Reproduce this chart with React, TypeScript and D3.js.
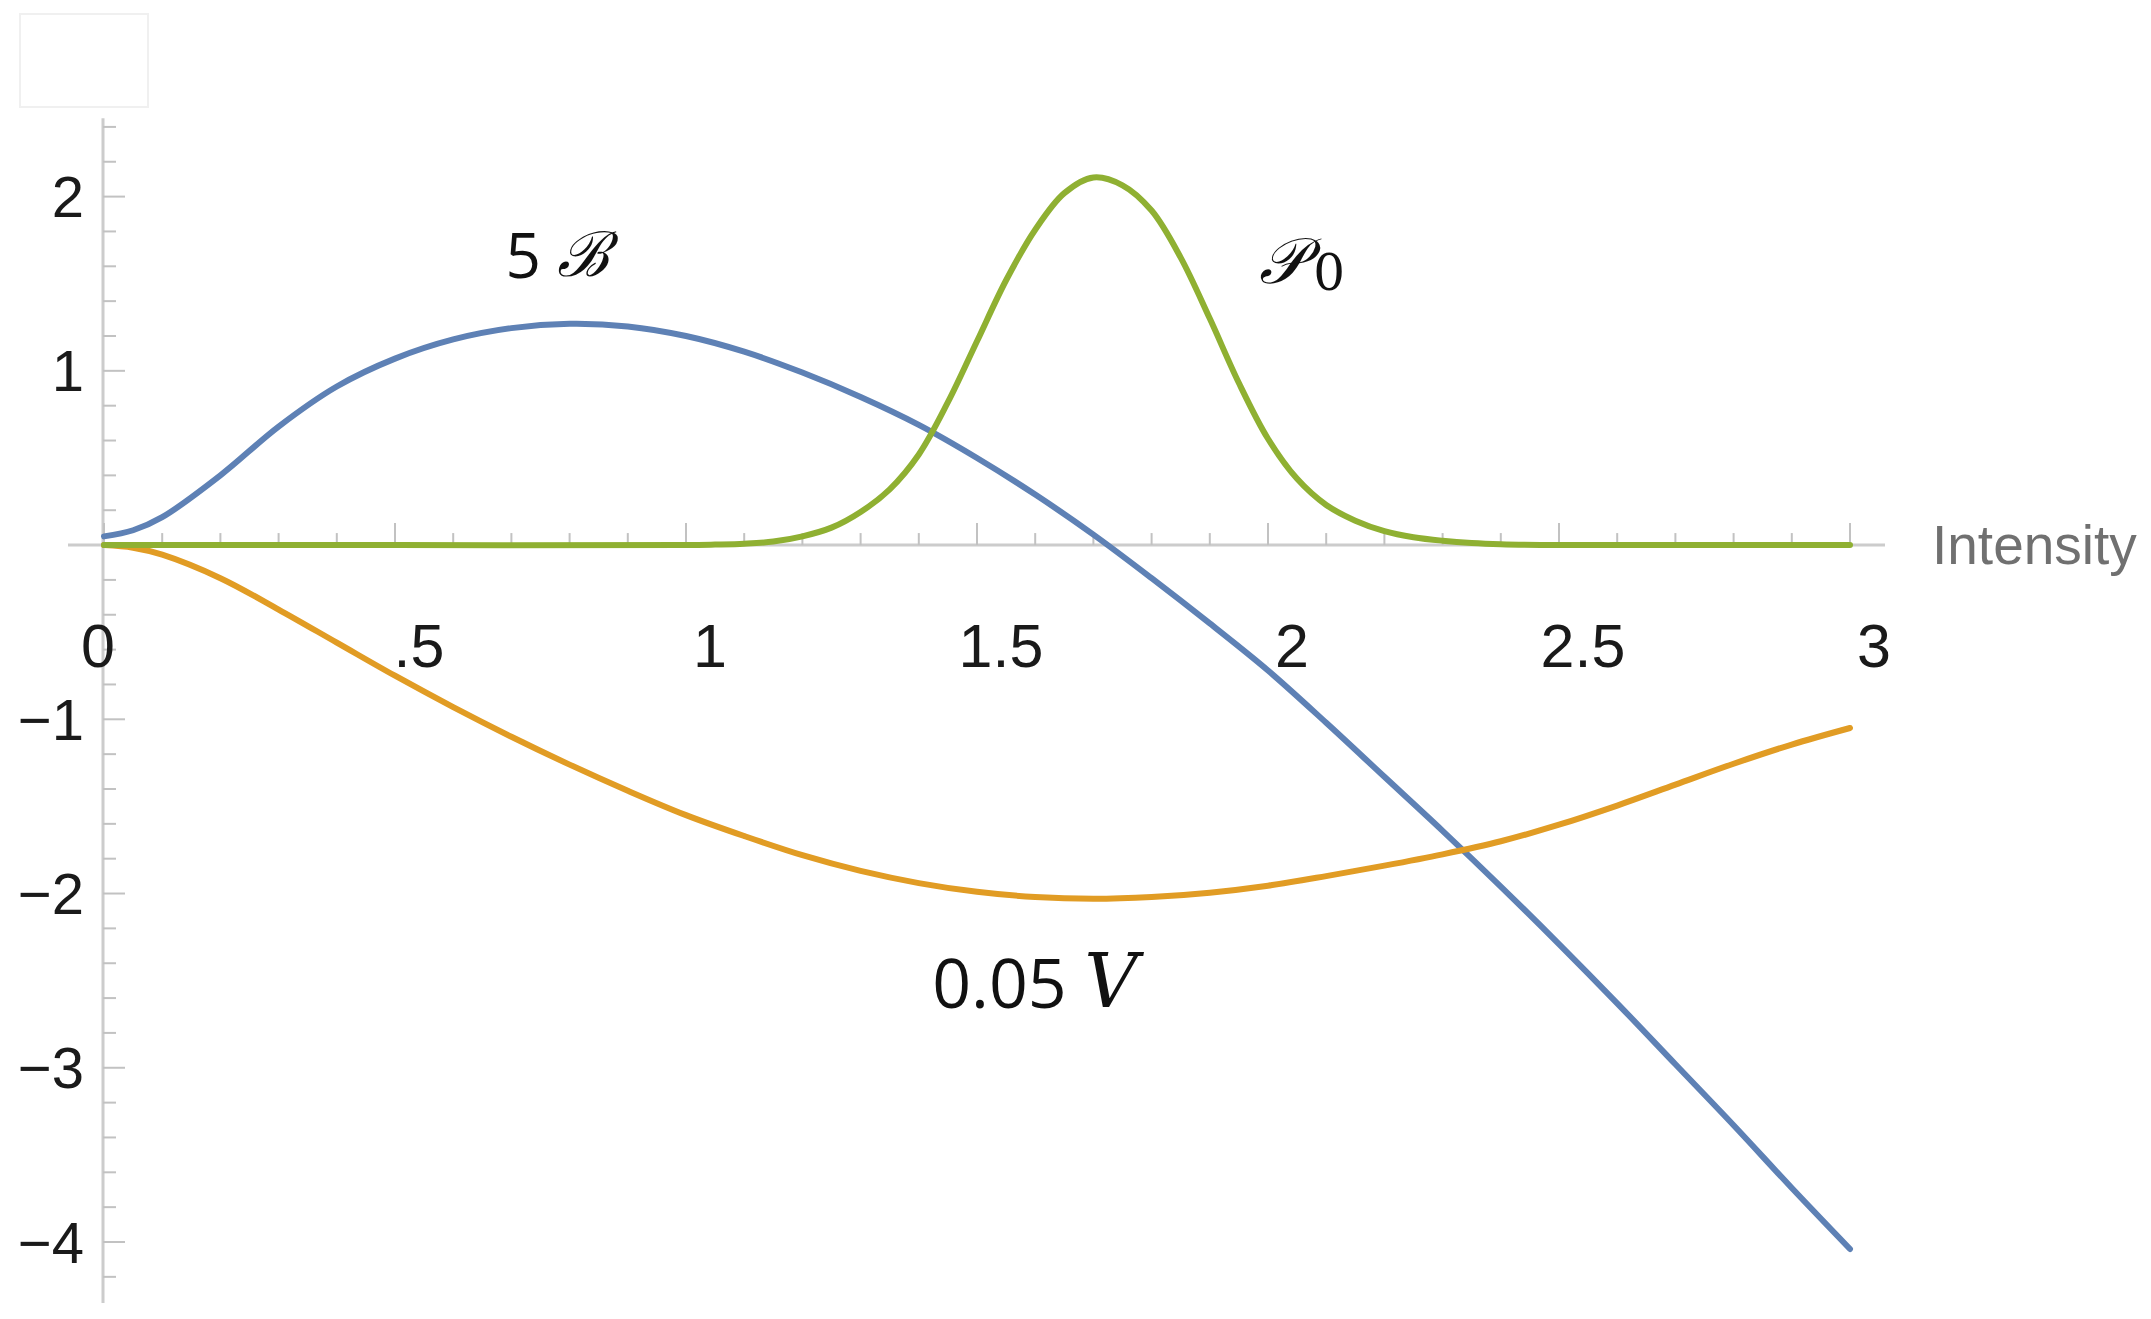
import React from "react";
import * as d3 from "d3";

// ---------- data ----------
const intensity = [
  0, 0.05, 0.1, 0.2, 0.3, 0.4, 0.5, 0.6, 0.7, 0.8, 0.9, 1.0,
  1.1, 1.2, 1.3, 1.4, 1.5, 1.6, 1.7, 1.8, 1.9, 2.0,
  2.1, 2.2, 2.3, 2.4, 2.5, 2.6, 2.7, 2.8, 2.9, 3.0,
];
// 5 B (blue)
const fiveB = [
  0.05, 0.085, 0.16, 0.4, 0.68, 0.91, 1.07, 1.18, 1.245, 1.27, 1.255, 1.2,
  1.11, 0.99, 0.85, 0.69, 0.5, 0.29, 0.06, -0.19, -0.45, -0.72,
  -1.02, -1.33, -1.64, -1.96, -2.29, -2.63, -2.98, -3.33, -3.69, -4.04,
];
// 0.05 V (orange)
const pointZeroFiveV = [
  0, -0.015, -0.055, -0.19, -0.37, -0.56, -0.75, -0.93, -1.1, -1.26, -1.41, -1.55,
  -1.67, -1.78, -1.87, -1.94, -1.99, -2.02, -2.03, -2.02, -1.995, -1.955,
  -1.9, -1.84, -1.775, -1.7, -1.605, -1.495, -1.375, -1.255, -1.145, -1.05,
];
// P0 (green) on its own finer grid
const intensityP0 = [
  0, 0.5, 1.0, 1.05, 1.1, 1.15, 1.2, 1.25, 1.3, 1.35, 1.4, 1.45, 1.5, 1.55,
  1.6, 1.65, 1.7, 1.75, 1.8, 1.85, 1.9, 1.95, 2.0, 2.05, 2.1, 2.15, 2.2,
  2.25, 2.3, 2.35, 2.4, 2.5, 2.7, 3.0,
];
const p0 = [
  0, 0, 0, 0.003, 0.008, 0.02, 0.05, 0.1, 0.19, 0.32, 0.52, 0.82, 1.17, 1.52,
  1.81, 2.02, 2.11, 2.065, 1.92, 1.65, 1.3, 0.93, 0.61, 0.38, 0.23, 0.14, 0.08,
  0.045, 0.025, 0.012, 0.005, 0, 0, 0,
];

const xTicks = [0, 0.5, 1, 1.5, 2, 2.5, 3];
const xTickLabels = ["0", ".5", "1", "1.5", "2", "2.5", "3"];
const yTicks = [-4, -3, -2, -1, 1, 2];
const yTickLabels = ["\u22124", "\u22123", "\u22122", "\u22121", "1", "2"];
const xAxisTitle = "Intensity";

const W = 2151;
const H = 1319;

export default function App() {
  const x = d3.scaleLinear().domain([0, 3]).range([104, 1850]);
  const y = d3.scaleLinear().domain([-4, 2]).range([1242, 196.6]);

  const mk = (xs: number[], ys: number[]) =>
    d3
      .line<number>()
      .x((_, i) => x(xs[i]))
      .y((d) => y(d))
      .curve(d3.curveCatmullRom.alpha(0.5))(ys) || "";

  const minorX = d3.range(0, 30.5, 1).map((v) => v / 10).filter((v) => Math.round(v * 10) % 5 !== 0);
  const minorY = d3.range(-21, 13, 1).map((v) => v / 5).filter((v) => Math.round(v * 5) % 5 !== 0);

  const axisColor = "#cccccc";
  const tickColor = "#c2c2c2";
  const y0 = y(0);
  const ax = x(0) - 1;

  return (
    <svg
      width={W}
      height={H}
      style={{ position: "absolute", left: 0, top: 0, display: "block", background: "#fff" }}
      fontFamily="'Liberation Sans', Arial, sans-serif"
    >
      <rect x={0} y={0} width={W} height={H} fill="#fff" />
      <rect x={20} y={14} width={128} height={93} fill="none" stroke="#f0f0f0" strokeWidth={2} />

      {/* y axis */}
      <line x1={ax} x2={ax} y1={y(2.45)} y2={y(-4.35)} stroke={axisColor} strokeWidth={3} />
      {minorY.map((v) => (
        <line key={"my" + v} x1={ax} x2={ax + 13} y1={y(v)} y2={y(v)} stroke={tickColor} strokeWidth={2} />
      ))}
      {yTicks.map((v) => (
        <line key={"Ty" + v} x1={ax} x2={ax + 22} y1={y(v)} y2={y(v)} stroke={tickColor} strokeWidth={2} />
      ))}
      {yTicks.map((v, i) => (
        <text key={"ly" + v} x={84} y={y(v)} textAnchor="end" dominantBaseline="central" fontSize={58} fill="#1a1a1a">
          {yTickLabels[i]}
        </text>
      ))}

      {/* x axis */}
      <line x1={68} x2={1885} y1={y0} y2={y0} stroke={axisColor} strokeWidth={3} />
      {minorX.map((v) => (
        <line key={"mx" + v} x1={x(v)} x2={x(v)} y1={y0} y2={y0 - 12} stroke={tickColor} strokeWidth={2} />
      ))}
      {xTicks.map((v) => (
        <line key={"Tx" + v} x1={x(v)} x2={x(v)} y1={y0} y2={y0 - 22} stroke={tickColor} strokeWidth={2} />
      ))}
      {xTicks.map((v, i) => (
        <text key={"lx" + v} x={x(v) + (i === 0 ? -6 : 24)} y={646} textAnchor="middle" dominantBaseline="central" fontSize={61} fill="#1a1a1a">
          {xTickLabels[i]}
        </text>
      ))}
      <text x={1932} y={y0} dominantBaseline="central" fontSize={55} fill="#707070">
        {xAxisTitle}
      </text>

      {/* curves */}
      <path d={mk(intensity, fiveB)} fill="none" stroke="#5E81B5" strokeWidth={6} strokeLinecap="round" strokeLinejoin="round" />
      <path d={mk(intensity, pointZeroFiveV)} fill="none" stroke="#E19C24" strokeWidth={6} strokeLinecap="round" strokeLinejoin="round" />
      <path d={mk(intensityP0, p0)} fill="none" stroke="#8FB032" strokeWidth={6} strokeLinecap="round" strokeLinejoin="round" />

      {/* curve labels */}
      <text x={x(0.69)} y={y(1.67)} dominantBaseline="central" fontSize={62} fill="#111">
        <tspan fontFamily="'Open Sans', sans-serif">5 </tspan>
        <tspan fontFamily="'DejaVu Serif', serif" fontStyle="italic">{"\u212C"}</tspan>
      </text>
      <text x={x(1.985)} y={y(1.63)} dominantBaseline="central" fontSize={64} fill="#111">
        <tspan fontFamily="'DejaVu Serif', serif" fontStyle="italic">{"\uD835\uDCAB"}</tspan>
        <tspan fontFamily="'DejaVu Serif', serif" fontSize={50} dx={8} dy={12}>0</tspan>
      </text>
      <text x={x(1.423)} y={y(-2.5)} dominantBaseline="central" fontSize={68} fill="#111">
        <tspan fontFamily="'Open Sans', sans-serif">0.05 </tspan>
        <tspan fontFamily="'DejaVu Serif', serif" fontStyle="italic" fontSize={74}>V</tspan>
      </text>
    </svg>
  );
}
